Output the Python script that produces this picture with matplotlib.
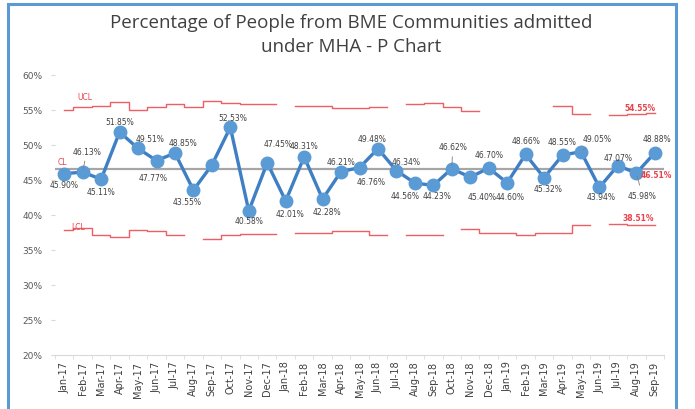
import matplotlib.pyplot as plt
from matplotlib.patches import Rectangle
import numpy as np

months = ['Jan-17', 'Feb-17', 'Mar-17', 'Apr-17', 'May-17', 'Jun-17', 'Jul-17',
          'Aug-17', 'Sep-17', 'Oct-17', 'Nov-17', 'Dec-17', 'Jan-18', 'Feb-18',
          'Mar-18', 'Apr-18', 'May-18', 'Jun-18', 'Jul-18', 'Aug-18', 'Sep-18',
          'Oct-18', 'Nov-18', 'Dec-18', 'Jan-19', 'Feb-19', 'Mar-19', 'Apr-19',
          'May-19', 'Jun-19', 'Jul-19', 'Aug-19', 'Sep-19']

# % of MHA admissions from BME communities
pct = [45.90, 46.13, 45.11, 51.85, 49.51, 47.77, 48.85, 43.55, 47.14, 52.53,
       40.58, 47.45, 42.01, 48.31, 42.28, 46.21, 46.76, 49.48, 46.34, 44.56,
       44.23, 46.62, 45.40, 46.70, 44.60, 48.66, 45.32, 48.55, 49.05, 43.94,
       47.07, 45.98, 48.88]

cl = 46.51
nan = np.nan
ucl = [55.04, 55.4, 55.6, 56.1, 55.05, 55.5, 55.9, 55.5, 56.3, 56.0,
       55.8, 55.8, nan, 55.6, 55.6, 55.3, 55.3, 55.5, nan, 55.9,
       56.0, 55.5, 54.9, nan, nan, nan, nan, 55.6, 54.4, nan,
       54.3, 54.4, 54.55]
lcl = [37.9, 38.2, 37.2, 36.8, 37.9, 37.7, 37.1, nan, 36.6, 37.1,
       37.3, 37.3, nan, 37.4, 37.4, 37.7, 37.7, 37.2, nan, 37.2,
       37.1, nan, 38.0, 37.4, 37.4, 37.1, 37.4, 37.4, 38.6, nan,
       38.7, 38.51, 38.51]

# label offsets (pixels) for each point; None = no label
label_off = [(0, -11), (4, 21), (0, -12), (0, 11), (12, 10), (-3, -17), (8, 11),
             (-6, -11), None, (2, 10), (0, -10), (11, 19), (4, -13), (0, 11),
             (4, -12), (0, 10), (12, -14), (-6, 10), (10, 9), (-10, -12),
             (4, -10), (1, 22), (12, -19), (0, 14), (3, -14), (0, 14), (4, -11),
             (0, 14), (16, 13), (2, -9), (0, 8), (6, -22), (2, 14)]
leaders = {1, 21, 28, 31}

x = np.arange(len(months))

fig = plt.figure(figsize=(6.95, 4.10), dpi=100)
ax = fig.add_axes([55 / 695, 1 - 356 / 410, 609 / 695, 280 / 410])

red = '#e8434a'
ax.axhline(cl, color='#a6a6a6', lw=1.6, zorder=1)
ax.plot(x, ucl, drawstyle='steps-mid', color=red, lw=1.0, alpha=0.85, zorder=1)
ax.plot(x, lcl, drawstyle='steps-mid', color=red, lw=1.0, alpha=0.85, zorder=1)
ax.plot(x, pct, color='#3f7fc4', lw=2.4, marker='o', ms=9,
        markerfacecolor='#5b9bd5', markeredgecolor='#5b9bd5', zorder=3)

for i, v in enumerate(pct):
    off = label_off[i]
    if off is None:
        continue
    arrow = dict(arrowstyle='-', color='#7f7f7f', lw=0.6) if i in leaders else None
    ax.annotate(f'{v:.2f}%', (x[i], v), xytext=off, textcoords='offset pixels',
                ha='center', va='center', fontsize=5.5, color='#404040',
                arrowprops=arrow, zorder=4)

ax.text(1.1, 56.9, 'UCL', color=red, fontsize=5.5, ha='center', va='center')
ax.text(-0.1, 47.6, 'CL', color=red, fontsize=5.5, ha='center', va='center')
ax.text(0.75, 38.4, 'LCL', color=red, fontsize=5.5, ha='center', va='center')
ax.text(31.2, 55.4, f'{ucl[-1]:.2f}%', color=red, fontsize=5.5,
        fontweight='bold', ha='center', va='center')
ax.text(32.1, 45.8, f'{cl:.2f}%', color=red, fontsize=5.5,
        fontweight='bold', ha='center', va='center')
ax.text(31.1, 39.7, f'{lcl[-1]:.2f}%', color=red, fontsize=5.5,
        fontweight='bold', ha='center', va='center')

ax.set_ylim(20, 60)
ax.set_xlim(-0.5, len(months) - 0.5)
ax.set_yticks(range(20, 61, 5))
ax.set_yticklabels([f'{t}%' for t in range(20, 61, 5)], fontsize=6.5,
                   color='#595959')
ax.set_xticks(x)
ax.set_xticklabels(months, rotation=90, fontsize=7, color='#404040')
ax.set_xticks(np.arange(-0.5, len(months), 1), minor=True)
ax.tick_params(axis='x', which='major', length=0, pad=4)
ax.tick_params(axis='x', which='minor', length=3, color='#d9d9d9')
ax.tick_params(axis='y', length=3, color='#d9d9d9', pad=6)
for side in ('top', 'right', 'left'):
    ax.spines[side].set_visible(False)
ax.spines['bottom'].set_color('#d9d9d9')

fig.text(0.505, 1 - 35 / 410,
         'Percentage of People from BME Communities admitted\nunder MHA - P Chart',
         ha='center', va='center', fontsize=13.5, color='#404040',
         family='Open Sans', linespacing=1.5)

fig.patches.append(Rectangle((8 / 695, -0.1), 668 / 695, 1.1 - 5 / 410,
                             transform=fig.transFigure, fill=False,
                             edgecolor='#5b9bd5', lw=2.2))

fig.savefig('out.png', dpi=100)
